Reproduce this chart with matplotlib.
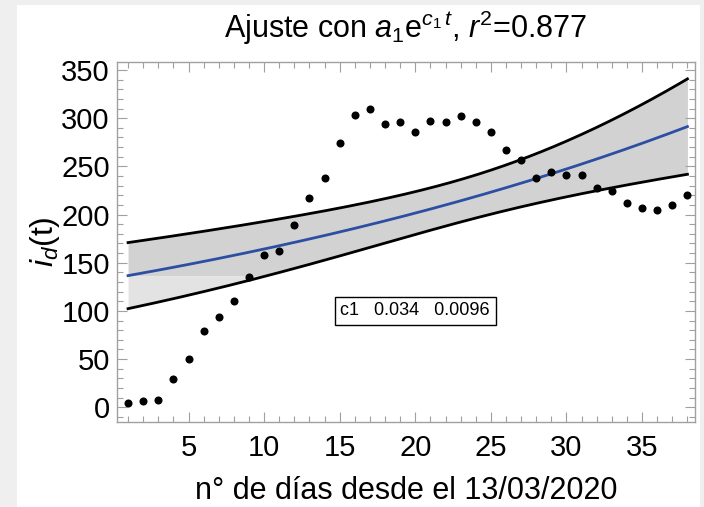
import numpy as np
import matplotlib
matplotlib.use("Agg")
import matplotlib.pyplot as plt
from matplotlib.patches import Rectangle
from matplotlib.ticker import MultipleLocator

# daily values
days = np.arange(1, 39)
values = np.array([
    4, 6, 8, 29, 50, 79, 94, 110, 135, 158, 162,
    189, 217, 238, 274, 303, 309, 294, 296, 286,
    297, 296, 302, 296, 286, 267, 257, 238, 244, 241,
    241, 228, 224, 212, 207, 205, 210, 220,
], dtype=float)

x_ticks = [5, 10, 15, 20, 25, 30, 35]
y_ticks = [0, 50, 100, 150, 200, 250, 300, 350]
param_text = "c1   0.034   0.0096"
T_95_DF36 = 1.688  # Student t quantile for the 90% mean band

BAND_DARK = "#d2d2d2"
BAND_LIGHT = "#e3e3e3"
FIT_BLUE = "#2d4fa3"
FRAME = "#a0a0a0"


def fit_exponential(t, y, n_iter=200):
    """Gauss-Newton least squares for y = a*exp(c*t)."""
    a, c = y.mean(), 0.0
    for _ in range(n_iter):
        e = np.exp(c * t)
        J = np.column_stack([e, a * t * e])
        step, *_ = np.linalg.lstsq(J, y - a * e, rcond=None)
        a += step[0]
        c += step[1]
    e = np.exp(c * t)
    J = np.column_stack([e, a * t * e])
    s2 = np.sum((y - a * e) ** 2) / (len(y) - 2)
    cov = s2 * np.linalg.inv(J.T @ J)
    return a, c, cov


a1, c1, cov = fit_exponential(days.astype(float), values)
tt = np.linspace(days[0], days[-1], 400)
fit = a1 * np.exp(c1 * tt)
Jt = np.column_stack([np.exp(c1 * tt), a1 * tt * np.exp(c1 * tt)])
half = T_95_DF36 * np.sqrt(np.einsum("ij,jk,ik->i", Jt, cov, Jt))
upper, lower = fit + half, fit - half
level = fit[0]

plt.rcParams["font.family"] = ["Liberation Sans", "DejaVu Sans"]
plt.rcParams["mathtext.fontset"] = "custom"
plt.rcParams["mathtext.rm"] = "Liberation Sans"
plt.rcParams["mathtext.it"] = "Liberation Sans:italic"

fig = plt.figure(figsize=(7.04, 5.07), dpi=100)
fig.patch.set_facecolor("#efefef")
fig.patches.append(Rectangle((17 / 704, 0), 683 / 704, 1 - 5 / 507,
                             transform=fig.transFigure, facecolor="white",
                             edgecolor="none", zorder=-5))

ax = fig.add_axes([116.7 / 704, 1 - 421.7 / 507, 578.3 / 704, 360 / 507])
ax.set_facecolor("white")

ax.fill_between(tt, np.maximum(lower, level), upper, color=BAND_DARK, lw=0)
ax.fill_between(tt, lower, np.minimum(upper, level), where=lower < level,
                color=BAND_LIGHT, lw=0)
ax.plot(tt, upper, color="black", lw=2.0)
ax.plot(tt, lower, color="black", lw=2.0)
ax.plot(tt, fit, color=FIT_BLUE, lw=2.0)
ax.plot(days, values, "o", color="black", ms=5.8, mec="none")

ax.text(20, 100, param_text, fontsize=13, ha="center", va="center",
        bbox=dict(boxstyle="square,pad=0.3", fc="white", ec="black", lw=1))

ax.set_xlim(0.25, 38.5)
ax.set_ylim(-15, 358.6)
ax.set_xticks(x_ticks)
ax.set_yticks(y_ticks)
ax.xaxis.set_minor_locator(MultipleLocator(1))
ax.yaxis.set_minor_locator(MultipleLocator(10))
ax.tick_params(which="both", direction="in", top=True, right=True,
               color=FRAME, width=0.8, labelsize=21, labelcolor="black")
ax.tick_params(which="major", length=7, pad=5)
ax.tick_params(axis="x", which="major", pad=9)
ax.tick_params(which="minor", length=4)
for spine in ax.spines.values():
    spine.set_color(FRAME)
    spine.set_linewidth(1)

ax.set_xlabel("n° de días desde el 13/03/2020", fontsize=22, labelpad=10)
ax.set_ylabel(r"$i_d$(t)", fontsize=23)
ax.yaxis.set_label_coords(-0.095, 0.5)

fig.text(406 / 704, 1 - 28 / 507,
         r"Ajuste con $a_1\mathrm{e}^{c_1\,t}$, $r^2$=0.877",
         fontsize=22, ha="center", va="center")

fig.savefig("out.png", dpi=100, facecolor=fig.get_facecolor())
